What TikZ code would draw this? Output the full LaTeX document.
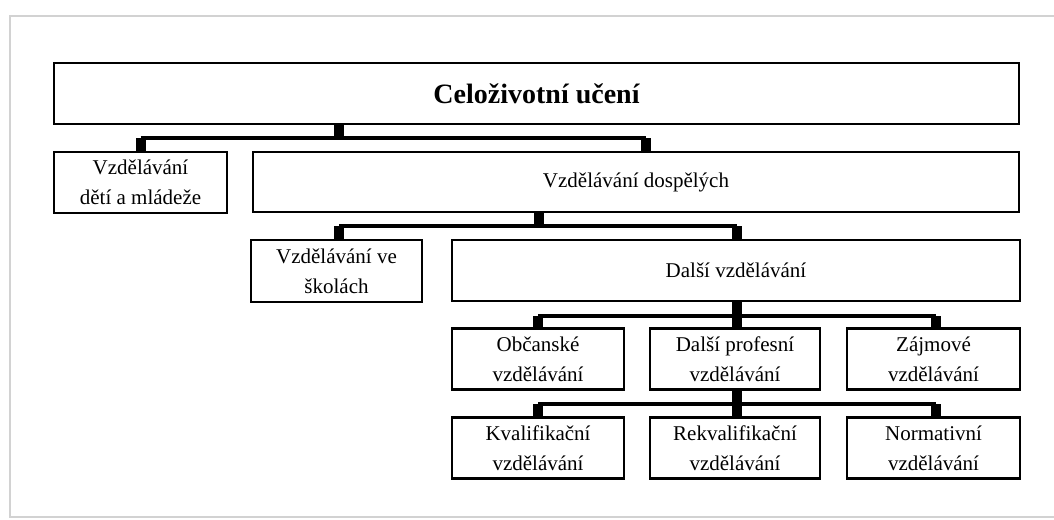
\documentclass[tikz,border=0pt]{standalone}
\usepackage{fontspec}
\setmainfont{Liberation Serif}
\begin{document}
\begin{tikzpicture}[x=1pt,y=-1pt,
  box/.style={draw=black, line width=2.6pt, fill=white, inner sep=0pt, align=center,
    font=\fontsize{21}{30}\selectfont},
  small/.style={box, minimum width=172pt, minimum height=61pt},
  stub/.style={line width=10pt, line cap=butt},
  bus/.style={line width=4.5pt, line cap=butt},
  frame/.style={draw=gray!35, line width=2.5pt}
]
\useasboundingbox (0,0) rectangle (1054,519);
\fill[white] (0,0) rectangle (1054,519);
\draw[frame] (1060,16) -- (10,16) -- (10,517) -- (1060,517);

% boxes
\node[box, minimum width=965pt, minimum height=61pt,
      font=\fontsize{28}{34}\selectfont\bfseries] (top) at (536.5,93.5) {Celoživotní učení};
\node[small, minimum width=173pt] (det) at (140.5,182.5) {Vzdělávání\\dětí a mládeže};
\node[box, minimum width=766pt, minimum height=60pt] (dos) at (636,182) {Vzdělávání dospělých};
\node[small, minimum width=171pt, minimum height=62pt] (sko) at (336.5,271) {Vzdělávání ve\\školách};
\node[box, minimum width=568pt, minimum height=61pt] (dal) at (736,270.5) {Další vzdělávání};
\node[small] (obc) at (538,359) {Občanské\\vzdělávání};
\node[small, minimum width=170pt] (pro) at (735,359) {Další profesní\\vzdělávání};
\node[small, minimum width=173pt] (zaj) at (933.5,359) {Zájmové\\vzdělávání};
\node[small] (kva) at (538,448) {Kvalifikační\\vzdělávání};
\node[small, minimum width=170pt] (rek) at (735,448) {Rekvalifikační\\vzdělávání};
\node[small, minimum width=173pt] (nor) at (933.5,448) {Normativní\\vzdělávání};

% junction coordinates
\coordinate (c1) at (339,138);
\coordinate (b1L) at (140.5,138);
\coordinate (b1R) at (646,138);
\coordinate (c2) at (539,226);
\coordinate (b2L) at (339,226);
\coordinate (b2R) at (737,226);
\coordinate (c3) at (737,316);
\coordinate (b3L) at (538,316);
\coordinate (b3R) at (936,316);
\coordinate (c4) at (737,404);
\coordinate (b4L) at (538,404);
\coordinate (b4R) at (936,404);

% level 1
\draw[bus] (b1L) -- (b1R);
\draw[stub] (top.south -| c1) -- (c1);
\draw[stub] (b1L) -- (b1L |- det.north);
\draw[stub] (b1R) -- (b1R |- dos.north);
% level 2
\draw[bus] (b2L) -- (b2R);
\draw[stub] (dos.south -| c2) -- (c2);
\draw[stub] (b2L) -- (b2L |- sko.north);
\draw[stub] (b2R) -- (b2R |- dal.north);
% level 3
\draw[bus] (b3L) -- (b3R);
\draw[stub] (dal.south -| c3) -- (pro.north -| c3);
\draw[stub] (b3L) -- (b3L |- obc.north);
\draw[stub] (b3R) -- (b3R |- zaj.north);
% level 4
\draw[bus] (b4L) -- (b4R);
\draw[stub] (pro.south -| c4) -- (rek.north -| c4);
\draw[stub] (b4L) -- (b4L |- kva.north);
\draw[stub] (b4R) -- (b4R |- nor.north);
\end{tikzpicture}
\end{document}
